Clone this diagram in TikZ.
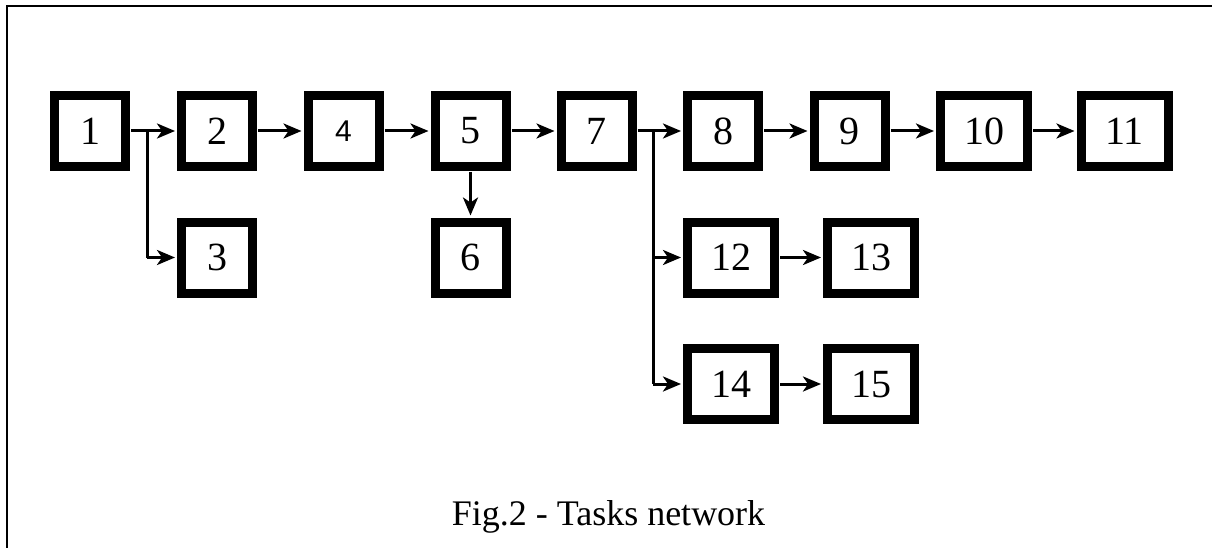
\documentclass[tikz,border=0pt]{standalone}
\usepackage{fontspec}
\setmainfont{Liberation Serif}
\newfontfamily\sansdigit{Liberation Sans}
\usetikzlibrary{arrows.meta}
\tikzset{
  task/.style={draw=black, fill=white, line width=9pt, minimum width=71pt,
    minimum height=71pt, inner sep=0pt, font=\fontsize{40}{42}\selectfont},
  widetask/.style={task, minimum width=87pt},
  link/.style={line width=3pt, -{Stealth[length=18pt,width=15pt,inset=5pt]},
    shorten >=2pt, shorten <=1pt},
  wire/.style={line width=3pt},
  frame/.style={line width=2.6pt}
}
\begin{document}
\begin{tikzpicture}[x=1pt, y=-1pt]
  \useasboundingbox (0,0) rectangle (1212,548);
  % open frame: top edge and left edge
  \draw[frame] (7,548) -- (7,6) -- (1212,6);

  % task boxes, first row
  \node[task] (n1) at (90,131) {1};
  \node[task] (n2) at (217,131) {2};
  \node[task, font=\sansdigit\fontsize{30}{32}\selectfont] (n4) at (343.5,131) {4};
  \node[task] (n5) at (470.5,131) {5};
  \node[task] (n7) at (596.5,131) {7};
  \node[task] (n8) at (723,131) {8};
  \node[task] (n9) at (849.5,131) {9};
  \node[widetask] (n10) at (984,131) {10};
  \node[widetask] (n11) at (1124.5,131) {11};
  % second row
  \node[task] (n3) at (217,257.5) {3};
  \node[task] (n6) at (470.5,257.5) {6};
  \node[widetask] (n12) at (731,257.5) {12};
  \node[widetask] (n13) at (871,257.5) {13};
  % third row
  \node[widetask] (n14) at (731,384) {14};
  \node[widetask] (n15) at (871,384) {15};

  % branch points
  \coordinate (b1) at (147,131);
  \coordinate (b7) at (653,131);

  % connectors
  \draw[link] (n1.east) -- (n2.west);
  \draw[wire] (b1) -- (b1 |- n3.west);
  \draw[link, shorten <=0pt] (b1 |- n3.west) -- (n3.west);
  \draw[link] (n2.east) -- (n4.west);
  \draw[link] (n4.east) -- (n5.west);
  \draw[link] (n5.south) -- (n6.north);
  \draw[link] (n5.east) -- (n7.west);
  \draw[link] (n7.east) -- (n8.west);
  \draw[wire] (b7) -- (b7 |- n14.west);
  \draw[link, shorten <=0pt] (b7 |- n12.west) -- (n12.west);
  \draw[link, shorten <=0pt] (b7 |- n14.west) -- (n14.west);
  \draw[link] (n8.east) -- (n9.west);
  \draw[link] (n9.east) -- (n10.west);
  \draw[link] (n10.east) -- (n11.west);
  \draw[link] (n12.east) -- (n13.west);
  \draw[link] (n14.east) -- (n15.west);

  % caption
  \node[anchor=base, font=\fontsize{36}{40}\selectfont] (cap) at (608.5,525)
    {Fig.2 - Tasks network};
\end{tikzpicture}
\end{document}
